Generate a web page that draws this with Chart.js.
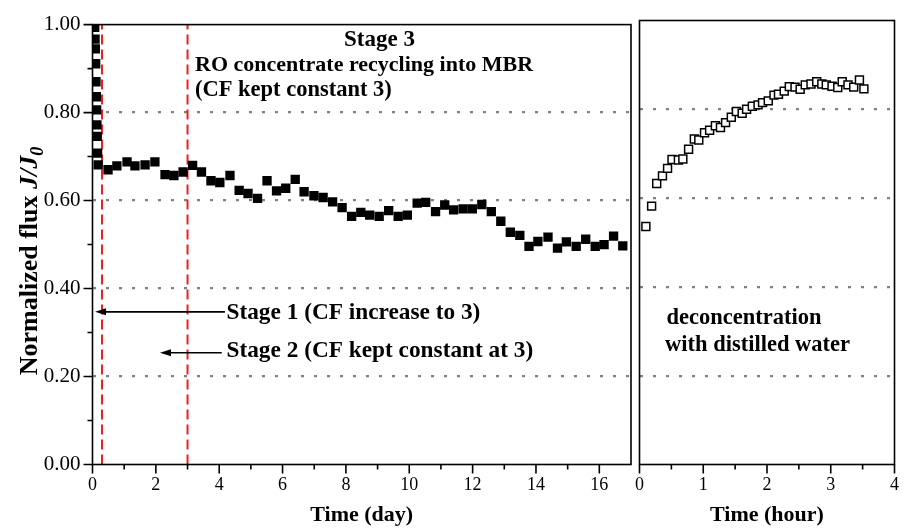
<!DOCTYPE html>
<html><head><meta charset="utf-8">
<script src="https://cdn.jsdelivr.net/npm/chart.js@4.4.0/dist/chart.umd.min.js"></script>
<style>
html,body{margin:0;padding:0;background:#fff;}
#wrap{position:relative;width:909px;height:530px;background:#fff;}
canvas{position:absolute;left:0;top:0;}
</style></head><body>
<div id="wrap"><canvas id="c1" width="909" height="530"></canvas><canvas id="c2" width="909" height="530"></canvas></div>
<script>
// ---------- data ----------
const dayTime = [0.07,0.08,0.09,0.10,0.11,0.12,0.13,0.14,0.15,0.16,
  0.18,0.49,0.77,1.09,1.34,1.66,1.97,2.29,2.57,2.86,
  3.16,3.44,3.74,4.02,4.34,4.63,4.91,5.21,5.51,5.81,
  6.10,6.40,6.68,6.99,7.28,7.58,7.88,8.18,8.47,8.75,
  9.05,9.35,9.65,9.94,10.25,10.52,10.83,11.12,11.40,11.70,
  11.99,12.29,12.59,12.89,13.19,13.49,13.78,14.06,14.38,14.68,
  14.96,15.27,15.57,15.87,16.15,16.45,16.74];
const dayFlux = [0.994,0.967,0.945,0.911,0.870,0.836,0.806,0.772,0.746,0.708,
  0.681,0.670,0.679,0.688,0.679,0.681,0.688,0.659,0.657,0.665,
  0.680,0.665,0.645,0.641,0.657,0.623,0.616,0.605,0.645,0.622,
  0.628,0.648,0.620,0.611,0.607,0.597,0.584,0.564,0.573,0.567,
  0.564,0.577,0.564,0.567,0.594,0.596,0.575,0.590,0.579,0.581,
  0.581,0.591,0.575,0.553,0.528,0.521,0.496,0.507,0.517,0.492,
  0.506,0.496,0.512,0.496,0.500,0.519,0.497];
const hourTime = [0.10,0.19,0.27,0.36,0.44,0.51,0.61,0.68,0.77,0.86,
  0.93,1.02,1.10,1.19,1.27,1.35,1.44,1.52,1.61,1.68,
  1.77,1.86,1.93,2.02,2.11,2.18,2.27,2.35,2.44,2.52,
  2.60,2.69,2.78,2.86,2.93,3.02,3.11,3.18,3.27,3.36,
  3.45,3.52];
const hourFlux = [0.536,0.582,0.633,0.650,0.667,0.687,0.686,0.688,0.710,0.733,
  0.731,0.747,0.753,0.763,0.759,0.770,0.782,0.795,0.791,0.800,
  0.807,0.810,0.815,0.819,0.832,0.834,0.841,0.851,0.850,0.845,
  0.855,0.857,0.862,0.857,0.855,0.852,0.849,0.862,0.855,0.850,
  0.866,0.846];
const stageBoundaries = [0.3, 3];            // days (red dashed lines)
const yMajorTicks = [0,0.2,0.4,0.6,0.8,1.0];
const yMinorTicks = [0.1,0.3,0.5,0.7,0.9];
const yGridValues = [0.2,0.4,0.6,0.8];
const dayMajorTicks = [0,2,4,6,8,10,12,14,16];
const dayMinorTicks = [1,3,5,7,9,11,13,15];
const hourMajorTicks = [0,1,2,3,4];
const hourMinorTicks = [0.5,1.5,2.5,3.5];

// ---------- style ----------
const SERIF = '"Liberation Serif","Times New Roman",serif';
const XTICKFONT = {family: SERIF, size: 18};
const YTICKFONT = {family: SERIF, size: 21};
const TITLEFONT = {family: SERIF, size: 22, weight: 'bold'};
const W = 909, H = 530;
const TOP = 20.5, BOTTOM = 464.5;
const L1 = 92.5, R1 = 631, L2 = 639.5, R2 = 896.5;

const isMember = (v, arr) => arr.some(a => Math.abs(a - v) < 1e-6);

function yScaleOpts(showLabels, width) {
  return {
    min: 0, max: 1,
    afterFit: s => { s.width = width; },
    ticks: {
      display: showLabels, stepSize: 0.1, padding: 12, font: YTICKFONT, color: '#000',
      callback: v => isMember(v, yMajorTicks) ? v.toFixed(2) : ''
    },
    grid: {
      drawTicks: false, lineWidth: 2.2,
      color: c => isMember(c.tick.value, yGridValues) ? '#808080' : 'rgba(0,0,0,0)'
    },
    border: {display: false, dash: [3, 10]}
  };
}
function xScaleOpts(max, step, majors, title) {
  return {
    type: 'linear', min: 0, max: max,
    afterFit: s => { s.height = H - BOTTOM; },
    ticks: {
      stepSize: step, autoSkip: false, maxRotation: 0, padding: 10, font: XTICKFONT, color: '#000',
      callback: v => isMember(v, majors) ? String(v) : ''
    },
    grid: {display: false, drawTicks: false},
    border: {display: false},
    title: {display: true, text: title, font: TITLEFONT, color: '#000', padding: {top: 0, bottom: 1}}
  };
}

// frame + tick marks + annotations
const decoPlugin = {
  id: 'deco',
  afterDatasetsDraw(chart, args, o) {
    const {ctx, chartArea: a, scales} = chart;
    ctx.save();
    ctx.strokeStyle = '#000';
    ctx.lineWidth = 1.6;
    ctx.strokeRect(a.left, a.top, a.right - a.left, a.bottom - a.top);
    ctx.beginPath();
    o.xMajor.forEach(v => { const x = scales.x.getPixelForValue(v); ctx.moveTo(x, a.bottom); ctx.lineTo(x, a.bottom + 9); });
    o.xMinor.forEach(v => { const x = scales.x.getPixelForValue(v); ctx.moveTo(x, a.bottom); ctx.lineTo(x, a.bottom + 5); });
    if (o.yTicks) {
      yMajorTicks.forEach(v => { const y = scales.y.getPixelForValue(v); ctx.moveTo(a.left, y); ctx.lineTo(a.left - 9, y); });
      yMinorTicks.forEach(v => { const y = scales.y.getPixelForValue(v); ctx.moveTo(a.left, y); ctx.lineTo(a.left - 5, y); });
    }
    ctx.stroke();

    ctx.fillStyle = '#000';
    ctx.textBaseline = 'alphabetic';
    ctx.textAlign = 'left';
    (o.texts || []).forEach(t => { ctx.font = 'bold ' + t[3] + 'px ' + SERIF; ctx.fillText(t[0], t[1], t[2]); });

    // arrows (tip at data coords)
    (o.arrows || []).forEach(ar => {
      const y = scales.y.getPixelForValue(ar.y);
      const x1 = scales.x.getPixelForValue(ar.tip), x2 = scales.x.getPixelForValue(ar.tail);
      ctx.lineWidth = 1.6;
      ctx.beginPath(); ctx.moveTo(x1 + 8, y); ctx.lineTo(x2, y); ctx.stroke();
      ctx.beginPath(); ctx.moveTo(x1, y); ctx.lineTo(x1 + 11, y - 3.5); ctx.lineTo(x1 + 11, y + 3.5); ctx.closePath(); ctx.fill();
    });

    // rotated y-axis title with italic J/J0
    if (o.yTitle) {
      ctx.save();
      ctx.translate(37, 261);
      ctx.rotate(-Math.PI / 2);
      const parts = [
        ['Normalized flux ', 'bold 26px ' + SERIF, 0],
        ['J/J', 'italic bold 26px ' + SERIF, 0],
        ['0', 'italic bold 18px ' + SERIF, 6]
      ];
      let total = 0;
      parts.forEach(p => { ctx.font = p[1]; total += ctx.measureText(p[0]).width; });
      let x = -total / 2;
      parts.forEach(p => { ctx.font = p[1]; ctx.fillText(p[0], x, p[2]); x += ctx.measureText(p[0]).width; });
      ctx.restore();
    }
    ctx.restore();
  }
};

Chart.register(decoPlugin);

// ---------- left panel (days) ----------
new Chart(document.getElementById('c1'), {
  type: 'scatter',
  data: {
    datasets: [
      {data: dayTime.map((t, i) => ({x: t, y: dayFlux[i]})), pointStyle: 'rect', pointRadius: 6.6,
       backgroundColor: '#000', borderColor: '#000', borderWidth: 0, order: 0, clip: 0},
      ...stageBoundaries.map(d => ({data: [{x: d, y: 0}, {x: d, y: 1}], showLine: true, pointRadius: 0,
       borderColor: '#f01e1e', borderWidth: 2, borderDash: [10, 5], order: 1}))
    ]
  },
  options: {
    responsive: false, animation: false, devicePixelRatio: 1,
    layout: {padding: {left: 0, right: W - R1, top: TOP, bottom: 0}},
    plugins: {
      legend: {display: false}, tooltip: {enabled: false},
      deco: {
        xMajor: dayMajorTicks, xMinor: dayMinorTicks, yTicks: true, yTitle: true,
        texts: [
          ['Stage 3', 344, 46, 23],
          ['RO concentrate recycling into MBR', 195, 70.5, 22],
          ['(CF kept constant 3)', 195, 96, 22.5],
          ['Stage 1 (CF increase to 3)', 226.5, 318.5, 23.3],
          ['Stage 2 (CF kept constant at 3)', 226.5, 357, 23.3]
        ],
        arrows: [{tip: 0.08, tail: 4.18, y: 0.347}, {tip: 2.13, tail: 4.08, y: 0.254}]
      }
    },
    scales: {x: xScaleOpts(17, 1, dayMajorTicks, 'Time (day)'), y: yScaleOpts(true, L1)}
  }
});

// ---------- right panel (hours) ----------
new Chart(document.getElementById('c2'), {
  type: 'scatter',
  data: {
    datasets: [
      {data: hourTime.map((t, i) => ({x: t, y: hourFlux[i]})), pointStyle: 'rect', pointRadius: 5.6,
       backgroundColor: '#fff', borderColor: '#000', borderWidth: 1.5, clip: 0}
    ]
  },
  options: {
    responsive: false, animation: false, devicePixelRatio: 1,
    layout: {padding: {left: L2, right: W - R2, top: TOP, bottom: 0}},
    plugins: {
      legend: {display: false}, tooltip: {enabled: false},
      deco: {
        xMajor: hourMajorTicks, xMinor: hourMinorTicks, yTicks: false, yTitle: false,
        texts: [
          ['deconcentration', 666.5, 323.5, 22.5],
          ['with distilled water', 665, 350.5, 22.5]
        ],
        arrows: []
      }
    },
    scales: {x: xScaleOpts(4, 0.5, hourMajorTicks, 'Time (hour)'), y: yScaleOpts(false, 0)}
  }
});
</script>
</body></html>
